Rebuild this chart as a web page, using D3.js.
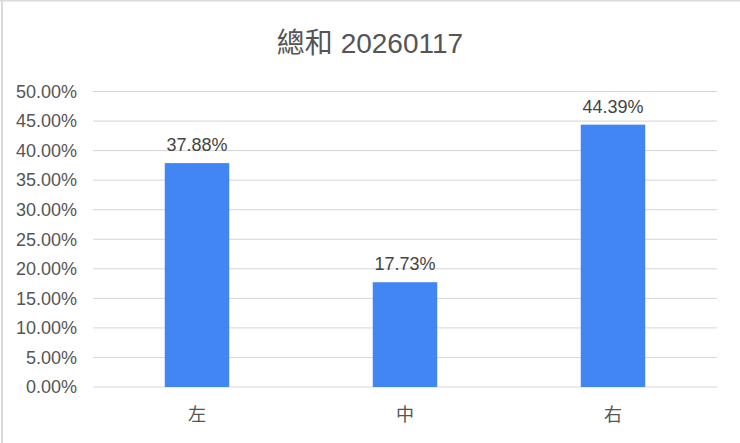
<!DOCTYPE html>
<html>
<head>
<meta charset="utf-8">
<script src="https://cdn.jsdelivr.net/npm/d3@7"></script>
<style>
  html, body { margin: 0; padding: 0; background: #fff; }
  svg { display: block; }
  text { font-family: "Liberation Sans", Arial, "Noto Sans CJK TC", sans-serif; }
</style>
</head>
<body>
<svg id="chart" width="740" height="443"></svg>
<script>
const title = "總和 20260117";
const categories = ["左", "中", "右"];
const values = [0.3788, 0.1773, 0.4439];
const yTicks = [0, 0.05, 0.10, 0.15, 0.20, 0.25, 0.30, 0.35, 0.40, 0.45, 0.50];

const W = 740, H = 443;
const margin = { left: 93, right: 23, top: 91.5, bottom: 56 };
const svg = d3.select("#chart");

// frame remnants
svg.append("line").attr("x1", 0).attr("x2", W).attr("y1", 0.5).attr("y2", 0.5)
  .attr("stroke", "#dadada").attr("stroke-width", 2);
svg.append("line").attr("x1", 2).attr("x2", 2).attr("y1", 0).attr("y2", H)
  .attr("stroke", "#dadada").attr("stroke-width", 2);

const x = d3.scaleBand().domain(categories)
  .range([margin.left, W - margin.right])
  .paddingInner(0.69).paddingOuter(0.345);
const y = d3.scaleLinear().domain([0, 0.5]).range([H - margin.bottom, margin.top]);

// gridlines
svg.append("g").selectAll("line").data(yTicks).join("line")
  .attr("x1", margin.left).attr("x2", W - margin.right)
  .attr("y1", d => y(d)).attr("y2", d => y(d))
  .attr("stroke", "#d6d6d6").attr("stroke-width", 1);

// y axis labels
const yAxis = d3.axisLeft(y).tickValues(yTicks).tickSize(0).tickPadding(16)
  .tickFormat(d => (d * 100).toFixed(2) + "%");
const ya = svg.append("g").attr("transform", `translate(${margin.left},0)`).call(yAxis);
ya.select(".domain").remove();
ya.selectAll("text").attr("font-size", 18).attr("fill", "#555")
  .style("font-family", '"Liberation Sans", Arial, sans-serif');

// bars
svg.append("g").selectAll("rect").data(values).join("rect")
  .attr("x", (d, i) => x(categories[i]))
  .attr("width", x.bandwidth())
  .attr("y", d => y(d))
  .attr("height", d => y(0) - y(d))
  .attr("fill", "#4285f4");

// value labels
svg.append("g").selectAll("text").data(values).join("text")
  .attr("x", (d, i) => x(categories[i]) + x.bandwidth() / 2)
  .attr("y", d => y(d) - 12)
  .attr("text-anchor", "middle")
  .attr("font-size", 18).attr("fill", "#444")
  .text(d => (d * 100).toFixed(2) + "%");

// x axis labels
const xAxis = d3.axisBottom(x).tickSize(0).tickPadding(0);
const xa = svg.append("g").attr("transform", `translate(0,${y(0)})`).call(xAxis);
xa.select(".domain").remove();
xa.selectAll("text").attr("font-size", 18).attr("fill", "#555")
  .attr("dy", null).attr("y", 34)
  .style("font-family", '"Noto Sans CJK TC", sans-serif');

// title
svg.append("text").attr("x", 370).attr("y", 53)
  .attr("text-anchor", "middle").attr("font-size", 28).attr("fill", "#555")
  .text(title);
</script>
</body>
</html>
